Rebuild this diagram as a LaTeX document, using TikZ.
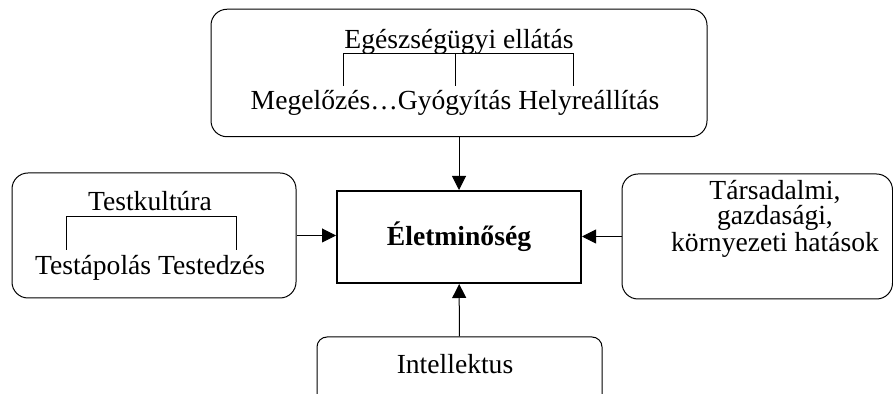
\documentclass[tikz,border=0pt]{standalone}
\usepackage{fontspec}
\setmainfont{Liberation Serif}
\usetikzlibrary{arrows.meta}

\begin{document}
\begin{tikzpicture}[
  x=0.5pt, y=-0.5pt,
  font=\fontsize{13.8}{11.3}\selectfont, >={Triangle[length=7pt,width=7pt]},
  roundBox/.style={draw, line width=0.5pt, rounded corners=8pt, inner sep=0pt},
  mainBox/.style={draw, line width=1pt, inner sep=0pt,
                  font=\fontsize{13.8}{16}\selectfont\bfseries},
  txt/.style={anchor=base, inner sep=0pt},
  arr/.style={->, line width=0.5pt},
]
\clip (0,0) rectangle (893,394);

\node[roundBox, minimum width=248pt, minimum height=63.75pt] (ellatas) at (459,73) {};
\node[roundBox, minimum width=142pt, minimum height=62.5pt]  (kultura) at (154,235.5) {};
\node[roundBox, minimum width=135.25pt, minimum height=62.5pt] (hatasok) at (757.25,236.5) {};
\node[roundBox, rounded corners=5pt, minimum width=142.5pt, minimum height=41.5pt] (intellektus) at (459.5,378.5) {};
\node[mainBox, minimum width=122pt, minimum height=46pt] (eletm) at (459,237) {Életminőség};

% egeszsegugyi ellatas
\node[txt] (ellTitle) at (459,49) {Egészségügyi ellátás};
\node[txt] (ellParts) at (455,110) {Megelőzés…Gyógyítás Helyreállítás};
\draw[line width=0.5pt] (343,86) |- (573,54) -- (573,86);
\draw[line width=0.5pt] (455,54) -- (455,86);

% testkultura
\node[txt] (kultTitle) at (150,211) {Testkultúra};
\node[txt] (kultParts) at (150,275) {Testápolás Testedzés};
\draw[line width=0.5pt] (66,250) |- (236,217) -- (236,250);

\node[inner sep=0pt, align=center] (hatasText) at (775,219) {Társadalmi,\\gazdasági,\\környezeti hatások};
\node[txt] (intText) at (455,374) {Intellektus};

\draw[arr] (ellatas) -- (eletm);
\draw[arr] (intellektus) -- (eletm);
\draw[arr] (kultura.east) -- (kultura.east -| eletm.west);
\draw[arr] (hatasok.west) -- (hatasok.west -| eletm.east);
\end{tikzpicture}
\end{document}
